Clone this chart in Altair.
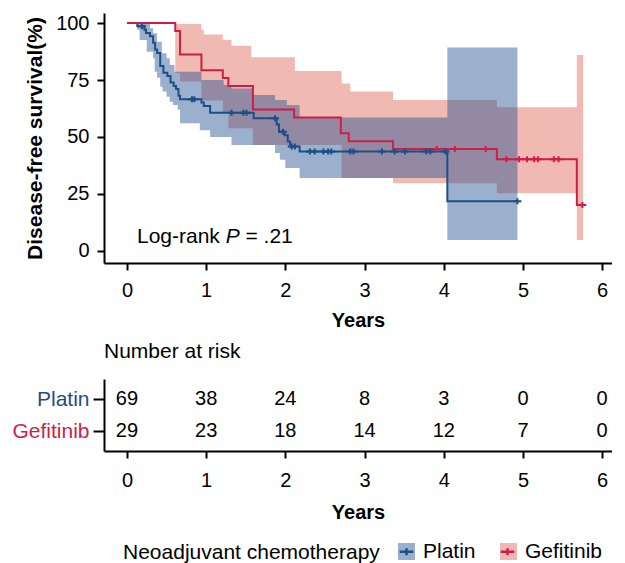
import altair as alt
import pandas as pd

FONT = "Liberation Sans"
BLUE = "#1d4e85"
RED = "#cf1d48"
BLUE_BAND = "#214f90"
RED_BAND = "#de6352"
BAND_OPACITY = 0.45

groups = ["Platin", "Gefitinib"]

# Kaplan-Meier step curves (years, survival %)
plat_time = [0, 0.13, 0.22, 0.24, 0.29, 0.33, 0.355, 0.38, 0.42, 0.46, 0.51, 0.55, 0.59, 0.62,
             0.65, 0.67, 0.94, 0.97, 1.05, 1.60, 1.89, 1.92, 1.99, 2.03, 2.06, 2.18, 4.045, 4.93]
plat_surv = [100, 98.6, 97.1, 95.6, 94.2, 91.3, 88.4, 86.9, 81.1, 78.2, 76.8, 73.9, 72.4, 71.0,
             68.1, 66.6, 65.1, 63.6, 60.6, 58.2, 55.5, 52.3, 50.8, 48.0, 45.8, 43.6, 21.8, 21.8]

gef_time = [0, 0.61, 0.67, 0.94, 1.21, 1.28, 1.59, 2.11, 2.70, 2.80, 3.36, 4.67, 5.68, 5.75]
gef_surv = [100, 96.5, 86.2, 79.3, 75.9, 72.4, 62.1, 58.6, 51.6, 48.1, 44.7, 40.2, 20.1, 20.1]

# censoring marks
plat_cens_time = [0.19, 0.82, 0.85, 1.32, 1.47, 1.51, 1.87, 1.97, 2.08, 2.12,
                  2.31, 2.37, 2.48, 2.54, 2.58, 2.82, 2.86, 3.22, 3.38, 3.51, 3.78, 3.83, 4.02,
                  4.93]
plat_cens_surv = [98.6, 66.6, 66.6, 60.6, 60.6, 60.6, 58.2, 52.3, 45.8, 45.8,
                  43.6, 43.6, 43.6, 43.6, 43.6, 43.6, 43.6, 43.6, 43.6, 43.6, 43.6, 43.6, 43.6,
                  21.8]
gef_cens_time = [3.91, 4.14, 4.53, 4.79, 4.95, 5.05, 5.14, 5.19, 5.39, 5.45, 5.75]
gef_cens_surv = [44.7, 44.7, 44.7, 40.2, 40.2, 40.2, 40.2, 40.2, 40.2, 40.2, 20.1]

# confidence bands
plat_band_time = [0.13, 0.16, 0.25, 0.29, 0.33, 0.35, 0.38, 0.42, 0.44, 0.45, 0.5, 0.54, 0.58, 0.6,
                  0.64, 0.67, 0.92, 0.94, 1.05, 1.22, 1.32, 1.59, 1.87, 1.93, 2.0, 2.02, 2.18,
                  4.045, 4.93]
plat_band_hi = [100, 100, 100, 97.7, 95.5, 95.5, 91.8, 91.8, 86.7, 86.7, 84.5, 81.6, 81.6, 78.6,
                78.6, 78.6, 78.6, 75, 75, 72.8, 71.3, 68.4, 66.2, 66.2, 66.2, 64, 58.5,
                89.3, 89.3]
plat_band_lo = [97, 92.5, 87.4, 87.4, 84.5, 78.6, 76, 72, 72, 70, 67.7, 65.5, 64, 64,
                62, 56, 53, 53, 50, 50, 46.5, 46.5, 43, 40, 36.4, 36.4, 32,
                4.8, 4.8]

gef_band_time = [0.61, 0.67, 0.94, 0.97, 1.21, 1.28, 1.32, 1.57, 1.59, 2.12, 2.71, 2.82, 3.36,
                 4.67, 5.68, 5.76]
gef_band_hi = [99.6, 99.6, 97, 95, 92.5, 92.5, 90, 85, 85, 79, 73.5, 70, 66.2, 63, 86, 86]
gef_band_lo = [78, 74.3, 66, 66, 60.5, 53.8, 53.8, 53.8, 46.5, 46.5, 32, 32, 29.7, 25.3, 4.8, 4.8]

# number at risk
risk_years = [0, 1, 2, 3, 4, 5, 6]
risk_platin = [69, 38, 24, 8, 3, 0, 0]
risk_gef = [29, 23, 18, 14, 12, 7, 0]

# ---------------- data frames ----------------
plat_line_df = pd.DataFrame({"time": plat_time, "surv": plat_surv, "group": "Platin"})
gef_line_df = pd.DataFrame({"time": gef_time, "surv": gef_surv, "group": "Gefitinib"})
plat_cens_df = pd.DataFrame({"time": plat_cens_time, "surv": plat_cens_surv, "group": "Platin"})
gef_cens_df = pd.DataFrame({"time": gef_cens_time, "surv": gef_cens_surv, "group": "Gefitinib"})
plat_band_df = pd.DataFrame({"time": plat_band_time, "lo": plat_band_lo, "hi": plat_band_hi, "arm": "Platin"})
gef_band_df = pd.DataFrame({"time": gef_band_time, "lo": gef_band_lo, "hi": gef_band_hi, "arm": "Gefitinib"})
risk_df = pd.DataFrame({
    "year": risk_years + risk_years,
    "group": ["Platin"] * len(risk_years) + ["Gefitinib"] * len(risk_years),
    "n": risk_platin + risk_gef,
})

# ---------------- scales / axes ----------------
W, H = 508, 250
x_scale = alt.Scale(domain=[-0.29, 6.124], nice=False, zero=False)
y_scale = alt.Scale(domain=[-5.3, 104.4], nice=False, zero=False)
fill_scale = alt.Scale(domain=groups, range=[BLUE_BAND, RED_BAND])
# extra unused key keeps this legend separate from the fill legend
stroke_scale = alt.Scale(domain=groups + ["-"], range=[BLUE, RED, "#000000"])

x_axis = alt.Axis(title="Years", values=risk_years, format="d", tickSize=7, labelPadding=10,
                  titlePadding=10, labelFontSize=20, titleFontSize=20, titleFontWeight="bold",
                  domainWidth=2, tickWidth=2, labelFlush=False, grid=False)
y_axis = alt.Axis(title="Disease-free survival(%)", values=[0, 25, 50, 75, 100], tickSize=7,
                  labelPadding=8, titlePadding=10, labelFontSize=20, titleFontSize=21,
                  titleFontWeight="bold", domainWidth=2, tickWidth=2, grid=False)

PLUS = "M-1,0H1M0,-0.75V0.75"
LEG_PLUS = "M-0.8,0H0.8M0,-0.4V0.4"

LEG_TITLE = "Neoadjuvant chemotherapy"
LEG_X, LEG_Y = 19, 528
common_leg = dict(
    orient="none", legendY=LEG_Y, direction="horizontal",
    labelFont=FONT, labelFontSize=21, labelColor="black", labelOffset=6, labelLimit=200,
    columnPadding=19, symbolSize=289, symbolStrokeWidth=2.5, padding=0,
)
leg_fill = alt.Legend(title=LEG_TITLE, legendX=LEG_X, titleOrient="left", titleFont=FONT,
                      titleFontSize=21, titleFontWeight="normal", titleColor="black",
                      titlePadding=16, titleLimit=400,
                      symbolType="square", symbolOpacity=BAND_OPACITY,
                      symbolStrokeColor="transparent", **common_leg)
# line glyphs laid over the squares (title width 21px * 12.228em + padding 16)
leg_stroke = alt.Legend(title=None, legendX=LEG_X + 257 + 16,
                        symbolType=LEG_PLUS, symbolFillColor="transparent", symbolOpacity=1,
                        labelOpacity=0, values=groups, **common_leg)

X = alt.X("time:Q", scale=x_scale, axis=x_axis)


def band(df):
    return alt.Chart(df).mark_area(interpolate="step-after", opacity=BAND_OPACITY).encode(
        x=X,
        y=alt.Y("lo:Q", scale=y_scale, axis=y_axis),
        y2="hi:Q",
        fill=alt.Fill("arm:N", scale=fill_scale, legend=leg_fill),
    )


def line(df):
    return alt.Chart(df).mark_line(interpolate="step-after", strokeWidth=2).encode(
        x=X,
        y=alt.Y("surv:Q", scale=y_scale, axis=y_axis),
        stroke=alt.Stroke("group:N", scale=stroke_scale, legend=leg_stroke),
    )


def cens(df):
    return alt.Chart(df).mark_point(shape=PLUS, size=64, strokeWidth=2, filled=False, opacity=1).encode(
        x=X,
        y=alt.Y("surv:Q", scale=y_scale, axis=y_axis),
        stroke=alt.Stroke("group:N", scale=stroke_scale, legend=leg_stroke),
    )


base_txt = alt.Chart(pd.DataFrame({"a": [0]}))
txt_kw = dict(font=FONT, fontSize=21, color="black", align="left", baseline="middle")
t1 = base_txt.mark_text(text="Log-rank", **txt_kw).encode(x=alt.datum(0.126), y=alt.datum(6.1))
t2 = base_txt.mark_text(text="P", dx=88.7, fontStyle="italic", **txt_kw).encode(
    x=alt.datum(0.126), y=alt.datum(6.1))
t3 = base_txt.mark_text(text="= .21", dx=108.5, **txt_kw).encode(
    x=alt.datum(0.126), y=alt.datum(6.1))

main = alt.layer(
    band(gef_band_df), band(plat_band_df),
    line(plat_line_df), line(gef_line_df),
    cens(plat_cens_df), cens(gef_cens_df),
    t1, t2, t3,
).properties(width=W, height=H)

risk_x_axis = alt.Axis(title="Years", values=risk_years, format="d", tickSize=7, labelPadding=12,
                       titlePadding=12, labelFontSize=20, titleFontSize=20, titleFontWeight="bold",
                       domainWidth=2, tickWidth=2, labelFlush=False, grid=False)
risk_y_axis = alt.Axis(title=None, tickSize=11, labelPadding=4, labelFontSize=21,
                       labelColor={"condition": {"test": "datum.value === 'Platin'", "value": BLUE},
                                   "value": RED},
                       domainWidth=2, tickWidth=2, grid=False)

risk = alt.Chart(risk_df).mark_text(font=FONT, fontSize=20, color="black", baseline="middle").encode(
    x=alt.X("year:Q", scale=x_scale, axis=risk_x_axis),
    y=alt.Y("group:N", scale=alt.Scale(type="point", domain=groups, padding=0.625), axis=risk_y_axis),
    text=alt.Text("n:Q"),
).properties(
    width=W, height=72,
    title=alt.TitleParams("Number at risk", anchor="start", frame="group", font=FONT, fontSize=21,
                          fontWeight="normal", color="black", offset=0, baseline="alphabetic"),
)

chart = alt.vconcat(main, risk, spacing=116, bounds="flush").properties(
    padding={"left": 3, "top": 5, "right": 0, "bottom": 0}
).configure_view(stroke=None).configure_axis(
    labelFont=FONT, titleFont=FONT, labelColor="black", titleColor="black",
    domainColor="black", tickColor="black", grid=False,
)

chart.save("out.html", embed_options={"renderer": "svg", "actions": False})
